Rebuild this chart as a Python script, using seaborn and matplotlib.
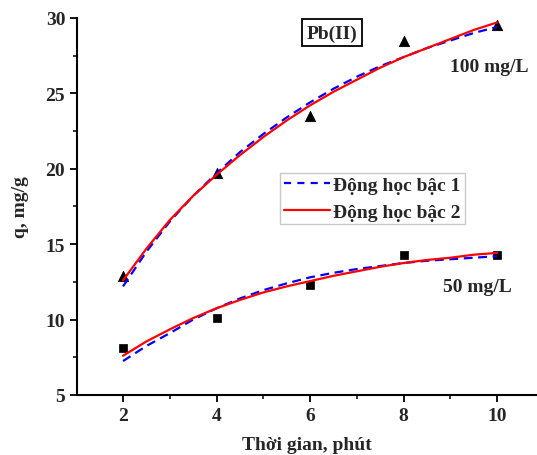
import numpy as np
import pandas as pd
import matplotlib
matplotlib.use("Agg")
import matplotlib.pyplot as plt
import seaborn as sns
from matplotlib.ticker import MultipleLocator
from matplotlib.lines import Line2D

sns.set_theme(style="ticks")
plt.rcParams['font.family'] = ['Liberation Serif', 'DejaVu Serif']
plt.rcParams['font.weight'] = 'bold'

# measured points
t_obs = [2, 4, 6, 8, 10]
q100_obs = [12.9, 19.7, 23.5, 28.5, 29.5]
q50_obs = [8.1, 10.1, 12.3, 14.3, 14.3]

# fitted curves
t_fit = [2, 2.5, 3, 3.5, 4, 4.5, 5, 5.5, 6, 6.5, 7, 7.5, 8, 8.5, 9, 9.5, 10]
q100_pfo = [12.2, 14.5, 16.5, 18.2, 19.7, 21.1, 22.3, 23.4, 24.4, 25.3, 26.1, 26.8, 27.4, 28.0, 28.5, 29.0, 29.4]
q100_pso = [12.6, 14.7, 16.6, 18.2, 19.6, 20.9, 22.1, 23.2, 24.2, 25.1, 25.9, 26.7, 27.4, 28.0, 28.6, 29.2, 29.7]
q50_pfo = [7.25, 8.25, 9.1, 10.0, 10.75, 11.4, 11.95, 12.4, 12.8, 13.1, 13.35, 13.55, 13.75, 13.9, 14.0, 14.1, 14.2]
q50_pso = [7.6, 8.55, 9.35, 10.1, 10.75, 11.3, 11.8, 12.2, 12.55, 12.9, 13.2, 13.5, 13.75, 13.95, 14.1, 14.3, 14.42]

labels = ["Động học bậc 1", "Động học bậc 2"]
x_ticks = [2, 4, 6, 8, 10]
y_ticks = [5, 10, 15, 20, 25, 30]

FS = 14

fig = plt.figure(figsize=(5.37, 4.56), dpi=100)
ax = fig.add_axes([0.1434, 0.1316, 0.857, 0.827])

df_obs = pd.DataFrame({"t": t_obs * 2, "q": q100_obs + q50_obs,
                       "c": ["100"] * 5 + ["50"] * 5})
sns.scatterplot(data=df_obs[df_obs.c == "100"], x="t", y="q", marker="^", s=55,
                color="black", edgecolor="black", ax=ax, legend=False, zorder=3)
sns.scatterplot(data=df_obs[df_obs.c == "50"], x="t", y="q", marker="s", s=40,
                color="black", edgecolor="black", ax=ax, legend=False, zorder=3)

for qp, qs in [(q100_pfo, q100_pso), (q50_pfo, q50_pso)]:
    sns.lineplot(x=t_fit, y=qp, color="blue", lw=1.6, ax=ax, zorder=4)
    ax.lines[-1].set_dashes([4, 2.5])
    sns.lineplot(x=t_fit, y=qs, color="red", lw=1.6, ax=ax, zorder=5)

ax.set_xlim(1.016, 10.856)
ax.set_ylim(5, 30)
ax.set_xticks(x_ticks)
ax.set_yticks(y_ticks)
ax.xaxis.set_minor_locator(MultipleLocator(1))
ax.yaxis.set_minor_locator(MultipleLocator(2.5))
ax.tick_params(which="major", direction="out", length=5, width=1.3, labelsize=FS, color="black")
ax.tick_params(which="minor", direction="out", length=3, width=1.1, color="black")
for lab in ax.get_xticklabels() + ax.get_yticklabels():
    lab.set_fontweight("bold")
for s in ["top", "right"]:
    ax.spines[s].set_visible(False)
for s in ["left", "bottom"]:
    ax.spines[s].set_linewidth(1.5)
    ax.spines[s].set_color("black")

ax.set_xlabel("Thời gian, phút", fontsize=FS, fontweight="bold", labelpad=9)
ax.set_ylabel("q, mg/g", fontsize=FS, fontweight="bold", labelpad=12)

h1 = Line2D([], [], color="blue", lw=1.6, dashes=[3.2, 2.8])
h2 = Line2D([], [], color="red", lw=1.6)
leg = fig.legend([h1, h2], labels, loc="upper left", bbox_to_anchor=(0.521, 0.619),
                 frameon=True, fancybox=False, edgecolor="#bbbbbb", fontsize=FS,
                 handlelength=2.4, handletextpad=0.15, borderpad=0.2, labelspacing=0.45,
                 borderaxespad=0)
leg.get_frame().set_linewidth(1.0)
ax.text(6.47, 29.0, "Pb(II)", ha="center", va="center", fontsize=FS, fontweight="bold",
        bbox=dict(boxstyle="square,pad=0.25", fc="white", ec="black", lw=1.3))
ax.text(9.83, 26.75, "100 mg/L", ha="center", va="center", fontsize=FS, fontweight="bold")
ax.text(9.57, 12.16, "50 mg/L", ha="center", va="center", fontsize=FS, fontweight="bold")

fig.savefig("out.png", dpi=100)
